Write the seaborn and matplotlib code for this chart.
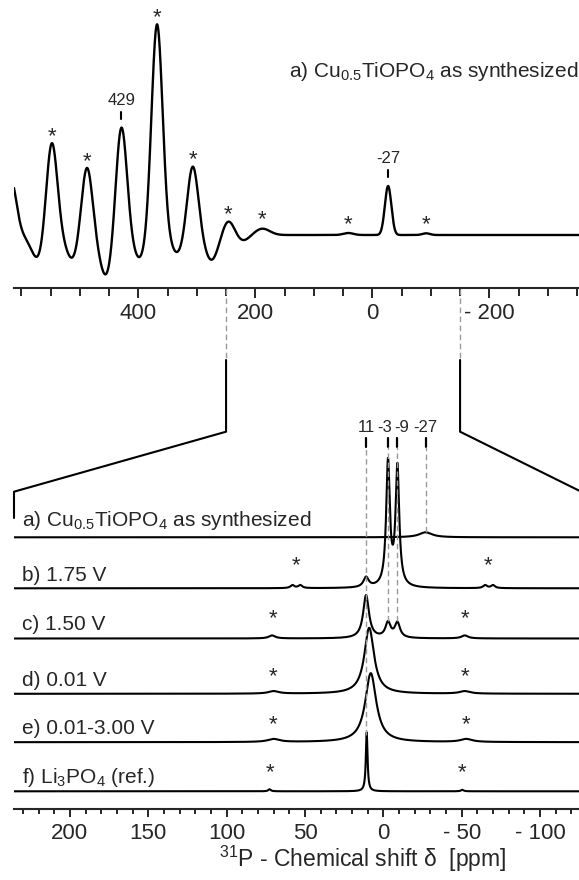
import numpy as np
import pandas as pd
import matplotlib
matplotlib.use("Agg")
import matplotlib.pyplot as plt
import seaborn as sns
from matplotlib.lines import Line2D
from matplotlib.transforms import Affine2D, blended_transform_factory
from matplotlib.ticker import FixedLocator, MultipleLocator

# ---------------- as-synthesized survey spectrum (full range) ----------------
survey_peak_ppm = [618, 548, 488, 429, 368, 307, 246, 188, 41, -27, -92]
survey_peak_height = [56, 95.8, 71.1, 111.9, 211.9, 70.7, 15.6, 6.4, 2.0, 49, 1.7]
survey_peak_fwhm = [22, 22, 22, 22, 22, 22, 25, 30, 20, 13, 15]
survey_dip_ppm = [571, 512, 455, 398, 333, 275, 223]
survey_dip_depth = [-24.6, -24.6, -41.4, -23.7, -18.4, -25.3, -6.3]
survey_dip_fwhm = [28, 28, 28, 28, 28, 28, 28]
survey_star_ppm = [548, 488, 368, 307, 246, 188, 41, -92]
survey_marked_ppm = [429, -27]
survey_label = "a) Cu$_{0.5}$TiOPO$_4$ as synthesized"
survey_ticks = [400, 200, 0, -200]
survey_ticklabels = ["400", "200", "0", "- 200"]

# ---------------- stacked spectra (expanded range) ----------------
stack_names = [
    "a) Cu$_{0.5}$TiOPO$_4$ as synthesized",
    "b) 1.75 V",
    "c) 1.50 V",
    "d) 0.01 V",
    "e) 0.01-3.00 V",
    "f) Li$_3$PO$_4$ (ref.)",
]
stack_peak_ppm = [
    [-27],
    [11, -3, -9, 58, 53, -65, -70],
    [11, -3, -9, 71, -52],
    [9, 70, -52],
    [8, 70, -53],
    [10.6, 72.6, -50.4],
]
stack_peak_height = [
    [5],
    [10, 124, 119, 3, 3, 3, 3],
    [43, 15, 15, 3, 3],
    [66, 2.5, 2.5],
    [69, 3, 3],
    [59, 2, 1.5],
]
stack_peak_fwhm = [
    [10],
    [4, 2.8, 2.8, 3, 3, 3, 3],
    [4.5, 4, 4, 5, 5],
    [7.5, 8, 8],
    [8.5, 9, 9],
    [1.3, 2, 2],
]
stack_star_ppm = [[], [56, -67], [70.5, -52], [70.4, -52], [70.4, -53], [72.6, -50.4]]
stack_marked_ppm = [11, -3, -9, -27]
stack_marked_labels = ["11", "-3", "-9", "-27"]
stack_ticks = [200, 150, 100, 50, 0, -50, -100]
stack_ticklabels = ["200", "150", "100", "50", "0", "- 50", "- 100"]

# ---------------- layout (pixels of a 579 x 880 canvas) ----------------
W, H = 579, 880
stack_offset = [272, 221, 170.8, 115.5, 67.1, 18]      # baseline height above the axis line
stack_label_lift = [11.6, 7, 8, 8, 8, 8]
stack_star_lift = [0, 5, 2, -1, 0, 1]
marked_line_end = [74.3, 188.3, 188.3, 277.3]
marked_text_dx = [0, -2.2, 2.8, 0]
label_size = 15


def gauss(x, c, h, w):
    return h * np.exp(-4 * np.log(2) * ((x - c) / w) ** 2)


def lorentz(x, c, h, w):
    return h / (1 + ((x - c) / (w / 2)) ** 2)


def survey_curve(x):
    y = np.zeros_like(x, dtype=float)
    for c, h, w in zip(survey_peak_ppm, survey_peak_height, survey_peak_fwhm):
        y += gauss(x, c, h, w)
    for c, h, w in zip(survey_dip_ppm, survey_dip_depth, survey_dip_fwhm):
        y += gauss(x, c, h, w)
    return y


def stack_curve(x, i):
    y = np.zeros_like(x, dtype=float)
    for c, h, w in zip(stack_peak_ppm[i], stack_peak_height[i], stack_peak_fwhm[i]):
        y += lorentz(x, c, h, w)
    return y


sns.set_style("ticks")
plt.rcParams["font.family"] = ["Liberation Sans", "DejaVu Sans"]
plt.rcParams["mathtext.fontset"] = "custom"
plt.rcParams["mathtext.rm"] = "Liberation Sans"
plt.rcParams["mathtext.it"] = "Liberation Sans:italic"
plt.rcParams["mathtext.bf"] = "Liberation Sans:bold"

fig = plt.figure(figsize=(W / 100, H / 100), dpi=100)
px = Affine2D().scale(1 / W, -1 / H).translate(0, 1) + fig.transFigure

# ---------- top panel ----------
ax_t = fig.add_axes([14 / W, (H - 288) / H, (W - 14) / W, 288 / H])
xt_lim = (612.5, -353.3)
xs = np.linspace(xt_lim[0], xt_lim[1], 6000)
sns.lineplot(x=xs, y=survey_curve(xs), ax=ax_t, color="black", lw=1.7,
             estimator=None, sort=False)
ax_t.set_xlim(*xt_lim)
ax_t.set_ylim(-53, 235)

for p in survey_star_ppm:
    yv = survey_curve(np.array([float(p)]))[0]
    lift = 1 if yv > 10 else 3
    ax_t.text(p, yv + lift, "*", ha="center", va="baseline", fontsize=16, clip_on=False)
for p in survey_marked_ppm:
    yv = survey_curve(np.array([float(p)]))[0]
    ax_t.plot([p, p], [yv + 9, yv + 16], color="black", lw=1.5, clip_on=False)
    ax_t.text(p, yv + 23, str(p), ha="center", va="baseline", fontsize=12, clip_on=False)

ax_t.text((289 - 14) / (W - 14), 157.7, survey_label, fontsize=label_size, ha="left",
          va="baseline", transform=blended_transform_factory(ax_t.transAxes, ax_t.transData),
          clip_on=False)

# ---------- bottom panel ----------
ax_b = fig.add_axes([14 / W, (H - 809.3) / H, (W - 14) / W, (809.3 - 415) / H])
xb_lim = (235.7, -124.9)
xb = np.linspace(xb_lim[0], xb_lim[1], 8000)
rows = []
for i, name in enumerate(stack_names):
    rows.append(pd.DataFrame({"ppm": xb, "y": stack_curve(xb, i) + stack_offset[i], "spec": name}))
stack_df = pd.concat(rows, ignore_index=True)
for name, g in stack_df.groupby("spec", sort=False):
    sns.lineplot(data=g, x="ppm", y="y", ax=ax_b, color="black", lw=1.5,
                 estimator=None, sort=False)
ax_b.set_xlim(*xb_lim)
ax_b.set_ylim(0, 809.3 - 415)

lab_tr = blended_transform_factory(ax_b.transAxes, ax_b.transData)
for i, name in enumerate(stack_names):
    ax_b.text(8 / (W - 14), stack_offset[i] + stack_label_lift[i], name, fontsize=label_size,
              ha="left", va="baseline", transform=lab_tr)
    for p in stack_star_ppm[i]:
        ax_b.text(p, stack_offset[i] + stack_star_lift[i] + 12.5, "*", ha="center",
                  va="baseline", fontsize=16)

for p, lab, yend, dx in zip(stack_marked_ppm, stack_marked_labels, marked_line_end, marked_text_dx):
    ax_b.plot([p, p], [362.6, 371], color="black", lw=1.6, clip_on=False)
    ax_b.plot([p, p], [yend, 362.6], color="#9a9a9a", lw=1.0, ls=(0, (4, 2.5)), clip_on=False)
    ax_b.annotate(lab, xy=(p, 377), xytext=(dx, 0), textcoords="offset points",
                  ha="center", va="baseline", fontsize=12, annotation_clip=False)

# ---------- axes styling ----------
for ax in (ax_t, ax_b):
    for s in ("top", "right", "left"):
        ax.spines[s].set_visible(False)
    ax.spines["bottom"].set_linewidth(1.5)
    ax.set_yticks([])
    ax.set_xlabel("")
    ax.set_ylabel("")
    ax.patch.set_alpha(0)

ax_t.xaxis.set_major_locator(FixedLocator(survey_ticks))
ax_t.set_xticklabels(survey_ticklabels)
ax_t.xaxis.set_minor_locator(MultipleLocator(50))
ax_t.tick_params(axis="x", which="major", length=7, width=1.4, labelsize=16, pad=3.5, direction="out")
ax_t.tick_params(axis="x", which="minor", length=5.5, width=1.4, direction="out")

ax_b.xaxis.set_major_locator(FixedLocator(stack_ticks))
ax_b.set_xticklabels(stack_ticklabels)
ax_b.xaxis.set_minor_locator(MultipleLocator(10))
ax_b.tick_params(axis="x", which="major", length=5.8, width=1.4, labelsize=16, pad=4.3, direction="out")
ax_b.tick_params(axis="x", which="minor", length=3.4, width=1.4, direction="out")

fig.text(363 / W, 1 - 867 / H, "$^{31}$P - Chemical shift δ  [ppm]", ha="center",
         va="baseline", fontsize=16.5)

# ---------- expansion connector ----------
def top_x(ppm):
    disp = ax_t.transData.transform((ppm, 0))
    return fig.transFigure.inverted().transform(disp)[0] * W

xl, xr = top_x(250), top_x(-150)
dash = dict(color="#9a9a9a", lw=1.0, ls=(0, (4, 2.5)), transform=px, clip_on=False)
solid = dict(color="black", lw=1.5, transform=px, clip_on=False)
fig.add_artist(Line2D([xl, xl], [289, 360], **dash))
fig.add_artist(Line2D([xr, xr], [289, 360], **dash))
fig.add_artist(Line2D([xl, xl, 14, 14], [360, 431.7, 491.7, 518], **solid))
fig.add_artist(Line2D([xr, xr, 600], [360, 431.7, 501.0], **solid))

fig.savefig("out.png", dpi=100)
